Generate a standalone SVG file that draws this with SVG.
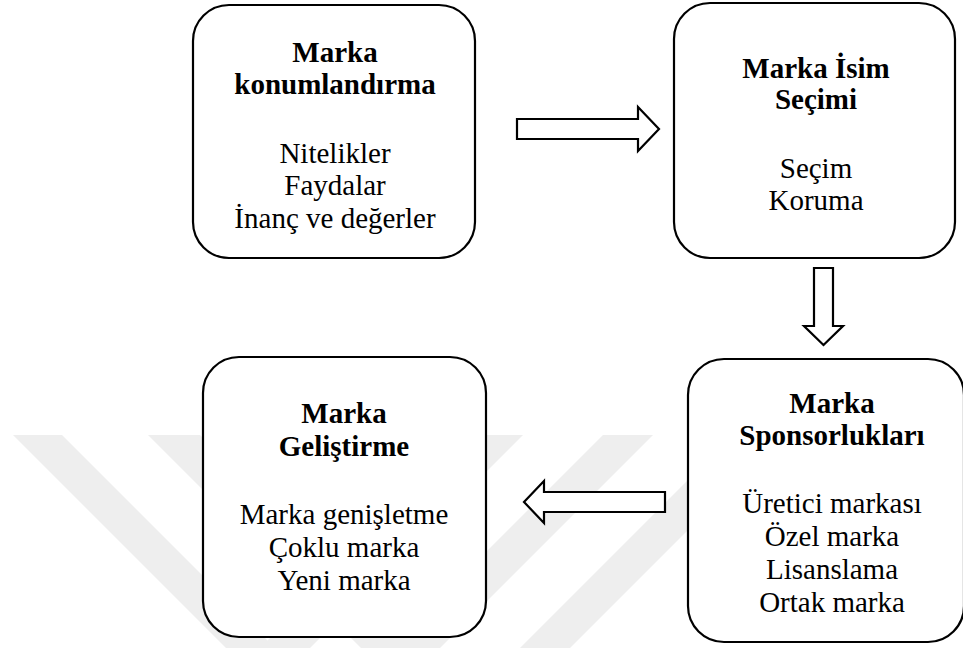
<svg xmlns="http://www.w3.org/2000/svg" width="963" height="648" viewBox="0 0 963 648">
<style>
.box{fill:#fff;stroke:#000;stroke-width:2.2}
.arr{fill:#fff;stroke:#000;stroke-width:2.2;stroke-linejoin:miter}
.wm{fill:#eeeeee}
text{font-family:"Liberation Serif","Times New Roman",serif;font-size:29px;fill:#000;text-anchor:middle}
.t{font-weight:bold}
</style>
<rect width="963" height="648" fill="#fff"/>
<g id="watermark">
<polygon class="wm" points="13,435 62,435 275,648 226,648"/>
<polygon class="wm" points="148,435 200,435 413,648 361,648"/>
<polygon class="wm" points="473,435 523,435 310,648 260,648"/>
<polygon class="wm" points="603,435 653,435 440,648 390,648"/>
<polygon class="wm" points="733,435 783,435 570,648 520,648"/>
</g>
<g id="connectors">
<path class="arr" d="M517,119 H638 V107 L659,129 L638,151 V139 H517 Z"/>
<path class="arr" d="M814,268 H833 V326 H843 L823.5,345 L804,326 H814 Z"/>
<path class="arr" d="M665,492 V512 H544 V523 L524,502 L544,481 V492 Z"/>
</g>
<g id="node1">
<rect class="box" x="193" y="5" width="282" height="253" rx="36"/>
<text class="t" x="335" y="62">Marka</text>
<text class="t" x="335" y="94">konumlandırma</text>
<text x="335" y="163">Nitelikler</text>
<text x="335" y="195">Faydalar</text>
<text x="335" y="228">İnanç ve değerler</text>
</g>
<g id="node2">
<rect class="box" x="674" y="3" width="281" height="255" rx="36"/>
<text class="t" x="816" y="78">Marka İsim</text>
<text class="t" x="816" y="109">Seçimi</text>
<text x="816" y="178">Seçim</text>
<text x="816" y="210">Koruma</text>
</g>
<g id="node3">
<rect class="box" x="203" y="357" width="283" height="280" rx="36"/>
<text class="t" x="344" y="423">Marka</text>
<text class="t" x="344" y="456">Geliştirme</text>
<text x="344" y="524">Marka genişletme</text>
<text x="344" y="557">Çoklu marka</text>
<text x="344" y="590">Yeni marka</text>
</g>
<g id="node4">
<rect class="box" x="688" y="359" width="276" height="283" rx="36"/>
<text class="t" x="832" y="413">Marka</text>
<text class="t" x="832" y="445">Sponsorlukları</text>
<text x="832" y="513">Üretici markası</text>
<text x="832" y="546">Özel marka</text>
<text x="832" y="579">Lisanslama</text>
<text x="832" y="612">Ortak marka</text>
</g>
</svg>
